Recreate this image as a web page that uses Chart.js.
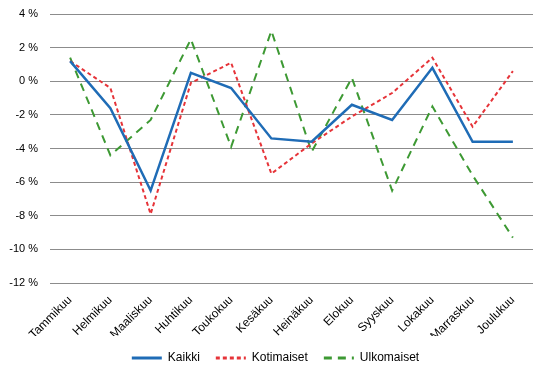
<!DOCTYPE html>
<html>
<head>
<meta charset="utf-8">
<script src="https://cdn.jsdelivr.net/npm/chart.js@4/dist/chart.umd.min.js"></script>
<style>
  html, body { margin: 0; padding: 0; background: #fff; }
  #wrap { width: 546px; height: 376px; }
</style>
</head>
<body>
<div id="wrap"><canvas id="chart" width="546" height="376"></canvas></div>
<script>
// months
const months = ["Tammikuu", "Helmikuu", "Maaliskuu", "Huhtikuu", "Toukokuu", "Kesäkuu",
  "Heinäkuu", "Elokuu", "Syyskuu", "Lokakuu", "Marraskuu", "Joulukuu"];
// change, %
const kaikki = [1.2, -1.6, -6.5, 0.5, -0.4, -3.4, -3.6, -1.4, -2.3, 0.8, -3.6, -3.6];
const kotimaiset = [1.2, -0.4, -7.9, -0.1, 1.1, -5.5, -3.7, -2.1, -0.7, 1.4, -2.7, 0.6];
const ulkomaiset = [1.4, -4.4, -2.3, 2.5, -3.9, 3.0, -4.2, 0.2, -6.5, -1.5, -5.6, -9.3];

Chart.defaults.font.family = "'Liberation Sans', Arial, sans-serif";
Chart.defaults.color = "#000";

// nudge the legend a bit to the right, like the original
const legendShift = {
  id: "legendShift",
  afterLayout(chart) {
    chart.legend.left += 9;
    chart.legend.right += 9;
  },
};

new Chart(document.getElementById("chart"), {
  type: "line",
  plugins: [legendShift],
  data: {
    labels: months,
    datasets: [
      { label: "Kaikki", data: kaikki, borderColor: "#1f6cb6", borderWidth: 2.5 },
      { label: "Kotimaiset", data: kotimaiset, borderColor: "#e63439", borderWidth: 2, borderDash: [4, 3] },
      { label: "Ulkomaiset", data: ulkomaiset, borderColor: "#3d9933", borderWidth: 2, borderDash: [8, 6] },
    ],
  },
  options: {
    responsive: false,
    animation: false,
    layout: { padding: { left: 0, right: 13, top: 0, bottom: 2 } },
    elements: { point: { radius: 0 }, line: { tension: 0 } },
    plugins: {
      tooltip: { enabled: false },
      legend: {
        position: "bottom",
        labels: {
          usePointStyle: true,
          pointStyle: "line",
          pointStyleWidth: 30,
          padding: 16,
          font: { size: 12 },
          // legend lines need the dataset dash, not the point style
          generateLabels: (chart) => chart.data.datasets.map((ds, i) => ({
            text: ds.label,
            strokeStyle: ds.borderColor,
            fillStyle: ds.borderColor,
            lineWidth: 3,
            lineDash: ds.borderDash || [],
            pointStyle: "line",
            datasetIndex: i,
            hidden: false,
          })),
        },
      },
    },
    scales: {
      x: {
        offset: true,
        grid: { display: false },
        border: { display: false },
        ticks: { maxRotation: 45, minRotation: 45, font: { size: 12 }, padding: 2 },
        afterFit: (s) => { s.height = 91 - s.chart.legend.height; },
      },
      y: {
        min: -12,
        max: 4,
        grid: { color: "#8c8c8c", drawTicks: false },
        border: { display: false },
        afterFit: (s) => {
          s.width = 50;
          s.paddingTop = 14;
          s.paddingBottom = 0;
        },
        ticks: {
          stepSize: 2,
          padding: 12,
          font: { size: 11 },
          callback: (v) => v + " %",
        },
      },
    },
  },
});
</script>
</body>
</html>
